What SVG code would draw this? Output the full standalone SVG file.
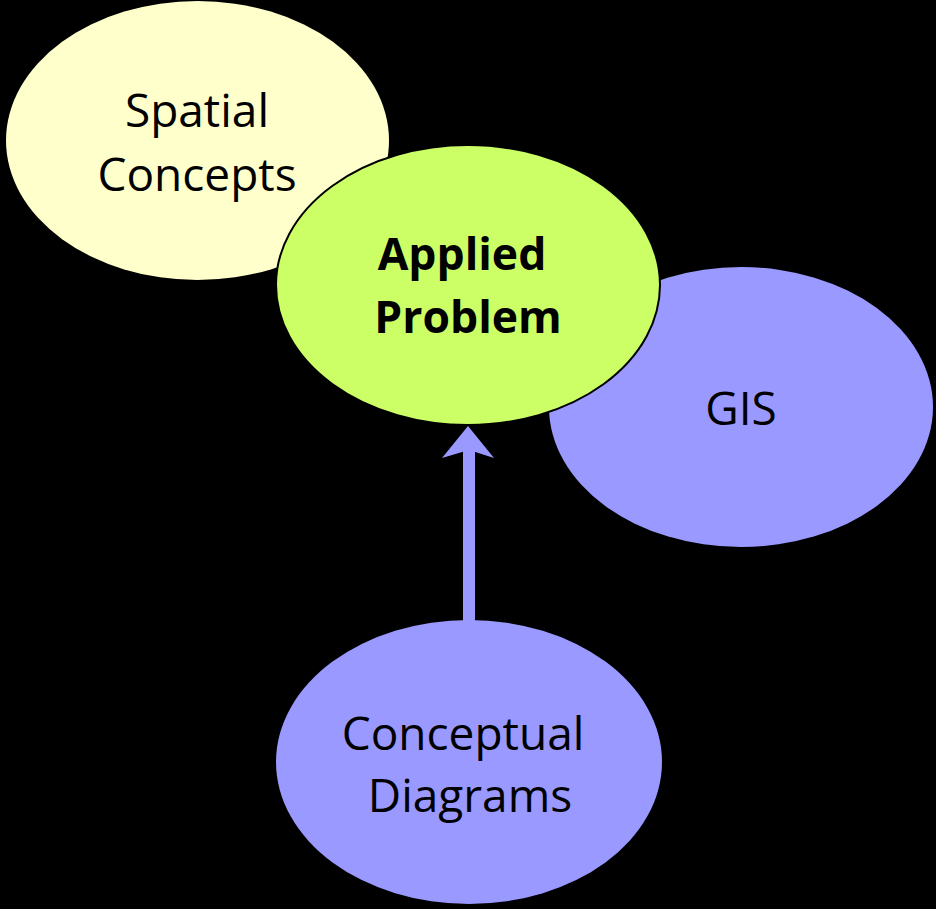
<svg xmlns="http://www.w3.org/2000/svg" width="936" height="909" viewBox="0 0 936 909">
  <style>
    .lbl { font-family: "Open Sans", "Liberation Sans", sans-serif; font-size: 46px; fill: #000; text-anchor: middle; }
    .bold { font-weight: bold; font-size: 44.5px; }
  </style>
  <rect width="936" height="909" fill="#000"/>
  <g id="spatial-concepts">
    <ellipse cx="197.5" cy="140.5" rx="191.5" ry="139.5" fill="#FFFFCC"/>
    <text class="lbl" x="197" y="127">Spatial</text>
    <text class="lbl" x="197" y="191">Concepts</text>
  </g>
  <g id="gis">
    <ellipse cx="741" cy="407" rx="192" ry="140" fill="#9999FF"/>
    <text class="lbl" x="741" y="425">GIS</text>
  </g>
  <g id="applied-problem">
    <ellipse cx="468" cy="285" rx="192" ry="140" fill="#CCFF66" stroke="#000" stroke-width="2"/>
    <text class="lbl bold" x="462" y="270">Applied</text>
    <text class="lbl bold" x="468" y="333">Problem</text>
  </g>
  <g id="conceptual-diagrams">
    <ellipse cx="469" cy="762" rx="193" ry="142" fill="#9999FF"/>
    <text class="lbl" x="463" y="750">Conceptual</text>
    <text class="lbl" x="470" y="812">Diagrams</text>
  </g>
  <g id="connectors">
    <rect x="463" y="448" width="12" height="175" fill="#9999FF"/>
    <polygon points="468,426 494,458 469,450 442,458" fill="#9999FF"/>
  </g>
</svg>
